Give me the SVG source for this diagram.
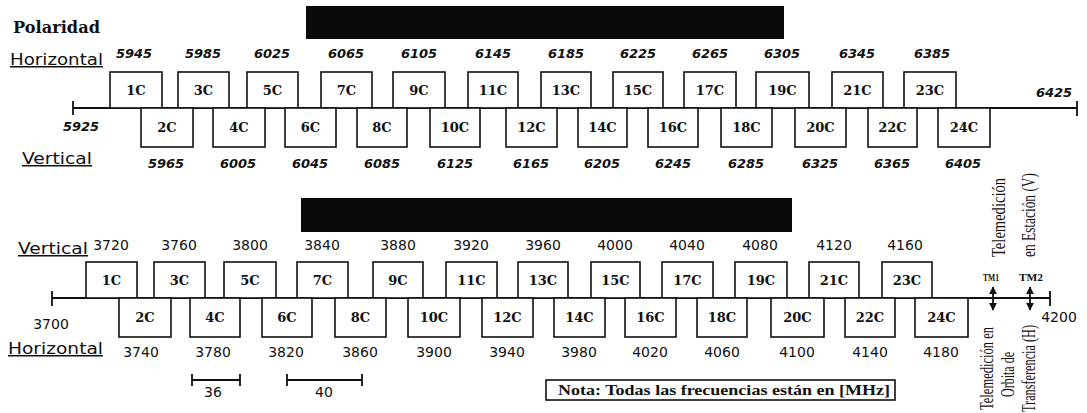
<svg xmlns="http://www.w3.org/2000/svg" width="1087" height="413" viewBox="0 0 1087 413">
<style>
.bg{fill:#fff}
.bx{fill:#fff;stroke:#111;stroke-width:1.6}
.ax{stroke:#111;stroke-width:1.8;fill:none}
.bl{font-family:"DejaVu Serif",serif;font-weight:bold;font-size:13px;fill:#111;text-anchor:middle}
.nt{font-family:"DejaVu Sans",sans-serif;font-weight:bold;font-style:oblique;font-size:13px;fill:#111;text-anchor:middle}
.nb{font-family:"DejaVu Sans",sans-serif;font-size:14px;fill:#111;text-anchor:middle}
.pl{font-family:"DejaVu Sans",sans-serif;font-size:15px;fill:#111;text-decoration:underline}
.rt{font-family:"Liberation Serif",serif;font-size:18px;fill:#111}
.tm{font-family:"Liberation Serif",serif;font-weight:bold;font-size:10px;fill:#111}
.ban{fill:#0a0a0a}
</style>
<defs>
<marker id="ah" viewBox="0 0 10 10" refX="9" refY="5" markerWidth="8" markerHeight="8" orient="auto-start-reverse" markerUnits="userSpaceOnUse">
<path d="M0,0 L10,5 L0,10 z" fill="#111"/>
</marker>
</defs>
<rect class="bg" x="0" y="0" width="1087" height="413"/>

<text x="13" y="33" font-family="DejaVu Serif, serif" font-weight="bold" font-size="16" textLength="87" lengthAdjust="spacingAndGlyphs" fill="#111">Polaridad</text>
<rect class="ban" x="306" y="6" width="478" height="33"/>
<rect class="ban" x="301" y="198" width="491" height="34"/>

<text class="pl" x="10" y="65" textLength="93" lengthAdjust="spacingAndGlyphs">Horizontal</text>
<text class="pl" x="22" y="164" textLength="70" lengthAdjust="spacingAndGlyphs">Vertical</text>
<text class="pl" x="18" y="254" textLength="70" lengthAdjust="spacingAndGlyphs">Vertical</text>
<text class="pl" x="8" y="354" textLength="95" lengthAdjust="spacingAndGlyphs">Horizontal</text>

<g id="connectors">
<line class="ax" x1="73" y1="108" x2="1077" y2="108"/>
<line class="ax" x1="73" y1="101" x2="73" y2="115"/>
<line class="ax" x1="1077" y1="101" x2="1077" y2="116"/>
<line class="ax" x1="52" y1="298" x2="1050" y2="298"/>
<line class="ax" x1="52" y1="291" x2="52" y2="306"/>
<line class="ax" x1="1050" y1="291" x2="1050" y2="306"/>
<line class="ax" x1="993" y1="287" x2="993" y2="310" marker-start="url(#ah)" marker-end="url(#ah)"/>
<line class="ax" x1="1030" y1="287" x2="1030" y2="310" marker-start="url(#ah)" marker-end="url(#ah)"/>
<line class="ax" x1="192" y1="380" x2="240" y2="380" stroke-width="1.4"/>
<line class="ax" x1="192" y1="374" x2="192" y2="386"/>
<line class="ax" x1="240" y1="374" x2="240" y2="386"/>
<line class="ax" x1="287" y1="380" x2="362" y2="380" stroke-width="1.4"/>
<line class="ax" x1="287" y1="374" x2="287" y2="386"/>
<line class="ax" x1="362" y1="374" x2="362" y2="386"/>
</g>

<g id="t1C"><rect class="bx" x="110" y="72" width="52" height="36"/><text class="bl" x="136" y="95">1C</text></g>
<g id="t3C"><rect class="bx" x="178" y="72" width="51" height="36"/><text class="bl" x="203.5" y="95">3C</text></g>
<g id="t5C"><rect class="bx" x="247" y="72" width="51" height="36"/><text class="bl" x="272.5" y="95">5C</text></g>
<g id="t7C"><rect class="bx" x="321" y="72" width="51" height="36"/><text class="bl" x="346.5" y="95">7C</text></g>
<g id="t9C"><rect class="bx" x="393" y="72" width="52" height="36"/><text class="bl" x="419" y="95">9C</text></g>
<g id="t11C"><rect class="bx" x="468" y="72" width="50" height="36"/><text class="bl" x="493" y="95">11C</text></g>
<g id="t13C"><rect class="bx" x="541" y="72" width="50" height="36"/><text class="bl" x="566" y="95">13C</text></g>
<g id="t15C"><rect class="bx" x="613" y="72" width="50" height="36"/><text class="bl" x="638" y="95">15C</text></g>
<g id="t17C"><rect class="bx" x="684" y="72" width="52" height="36"/><text class="bl" x="710" y="95">17C</text></g>
<g id="t19C"><rect class="bx" x="756" y="72" width="53" height="36"/><text class="bl" x="782.5" y="95">19C</text></g>
<g id="t21C"><rect class="bx" x="832" y="72" width="51" height="36"/><text class="bl" x="857.5" y="95">21C</text></g>
<g id="t23C"><rect class="bx" x="904" y="72" width="52" height="36"/><text class="bl" x="930" y="95">23C</text></g>

<g id="t2C"><rect class="bx" x="141" y="108" width="52" height="39"/><text class="bl" x="167" y="132">2C</text></g>
<g id="t4C"><rect class="bx" x="213" y="108" width="52" height="39"/><text class="bl" x="239" y="132">4C</text></g>
<g id="t6C"><rect class="bx" x="285" y="108" width="51" height="39"/><text class="bl" x="310.5" y="132">6C</text></g>
<g id="t8C"><rect class="bx" x="357" y="108" width="50" height="39"/><text class="bl" x="382" y="132">8C</text></g>
<g id="t10C"><rect class="bx" x="430" y="108" width="50" height="39"/><text class="bl" x="455" y="132">10C</text></g>
<g id="t12C"><rect class="bx" x="506" y="108" width="51" height="39"/><text class="bl" x="531.5" y="132">12C</text></g>
<g id="t14C"><rect class="bx" x="578" y="108" width="49" height="39"/><text class="bl" x="602.5" y="132">14C</text></g>
<g id="t16C"><rect class="bx" x="648" y="108" width="50" height="39"/><text class="bl" x="673" y="132">16C</text></g>
<g id="t18C"><rect class="bx" x="721" y="108" width="51" height="39"/><text class="bl" x="746.5" y="132">18C</text></g>
<g id="t20C"><rect class="bx" x="795" y="108" width="51" height="39"/><text class="bl" x="820.5" y="132">20C</text></g>
<g id="t22C"><rect class="bx" x="868" y="108" width="49" height="39"/><text class="bl" x="892.5" y="132">22C</text></g>
<g id="t24C"><rect class="bx" x="938" y="108" width="52" height="39"/><text class="bl" x="964" y="132">24C</text></g>

<g id="top-freqs">
<text class="nt" x="134" y="58">5945</text>
<text class="nt" x="203" y="58">5985</text>
<text class="nt" x="272" y="58">6025</text>
<text class="nt" x="346" y="58">6065</text>
<text class="nt" x="419" y="58">6105</text>
<text class="nt" x="493" y="58">6145</text>
<text class="nt" x="566" y="58">6185</text>
<text class="nt" x="638" y="58">6225</text>
<text class="nt" x="710" y="58">6265</text>
<text class="nt" x="782" y="58">6305</text>
<text class="nt" x="857" y="58">6345</text>
<text class="nt" x="932" y="58">6385</text>
<text class="nt" x="166" y="168">5965</text>
<text class="nt" x="238" y="168">6005</text>
<text class="nt" x="310" y="168">6045</text>
<text class="nt" x="382" y="168">6085</text>
<text class="nt" x="455" y="168">6125</text>
<text class="nt" x="531" y="168">6165</text>
<text class="nt" x="602" y="168">6205</text>
<text class="nt" x="673" y="168">6245</text>
<text class="nt" x="746" y="168">6285</text>
<text class="nt" x="820" y="168">6325</text>
<text class="nt" x="892" y="168">6365</text>
<text class="nt" x="963" y="168">6405</text>
<text class="nt" x="81" y="131">5925</text>
<text class="nt" x="1054" y="97">6425</text>
</g>

<g id="b1C"><rect class="bx" x="86" y="262" width="51" height="36"/><text class="bl" x="111.5" y="285">1C</text></g>
<g id="b3C"><rect class="bx" x="154" y="262" width="51" height="36"/><text class="bl" x="179.5" y="285">3C</text></g>
<g id="b5C"><rect class="bx" x="224" y="262" width="52" height="36"/><text class="bl" x="250" y="285">5C</text></g>
<g id="b7C"><rect class="bx" x="297" y="262" width="51" height="36"/><text class="bl" x="322.5" y="285">7C</text></g>
<g id="b9C"><rect class="bx" x="373" y="262" width="50" height="36"/><text class="bl" x="398" y="285">9C</text></g>
<g id="b11C"><rect class="bx" x="446" y="262" width="51" height="36"/><text class="bl" x="471.5" y="285">11C</text></g>
<g id="b13C"><rect class="bx" x="518" y="262" width="50" height="36"/><text class="bl" x="543" y="285">13C</text></g>
<g id="b15C"><rect class="bx" x="591" y="262" width="49" height="36"/><text class="bl" x="615.5" y="285">15C</text></g>
<g id="b17C"><rect class="bx" x="662" y="262" width="51" height="36"/><text class="bl" x="687.5" y="285">17C</text></g>
<g id="b19C"><rect class="bx" x="735" y="262" width="52" height="36"/><text class="bl" x="761" y="285">19C</text></g>
<g id="b21C"><rect class="bx" x="809" y="262" width="50" height="36"/><text class="bl" x="834" y="285">21C</text></g>
<g id="b23C"><rect class="bx" x="882" y="262" width="50" height="36"/><text class="bl" x="907" y="285">23C</text></g>

<g id="b2C"><rect class="bx" x="119" y="298" width="52" height="39"/><text class="bl" x="145" y="322">2C</text></g>
<g id="b4C"><rect class="bx" x="190" y="298" width="50" height="39"/><text class="bl" x="215" y="322">4C</text></g>
<g id="b6C"><rect class="bx" x="262" y="298" width="50" height="39"/><text class="bl" x="287" y="322">6C</text></g>
<g id="b8C"><rect class="bx" x="335" y="298" width="51" height="39"/><text class="bl" x="360.5" y="322">8C</text></g>
<g id="b10C"><rect class="bx" x="408" y="298" width="52" height="39"/><text class="bl" x="434" y="322">10C</text></g>
<g id="b12C"><rect class="bx" x="482" y="298" width="51" height="39"/><text class="bl" x="507.5" y="322">12C</text></g>
<g id="b14C"><rect class="bx" x="554" y="298" width="51" height="39"/><text class="bl" x="579.5" y="322">14C</text></g>
<g id="b16C"><rect class="bx" x="625" y="298" width="51" height="39"/><text class="bl" x="650.5" y="322">16C</text></g>
<g id="b18C"><rect class="bx" x="697" y="298" width="50" height="39"/><text class="bl" x="722" y="322">18C</text></g>
<g id="b20C"><rect class="bx" x="771" y="298" width="53" height="39"/><text class="bl" x="797.5" y="322">20C</text></g>
<g id="b22C"><rect class="bx" x="845" y="298" width="50" height="39"/><text class="bl" x="870" y="322">22C</text></g>
<g id="b24C"><rect class="bx" x="915" y="298" width="53" height="39"/><text class="bl" x="941.5" y="322">24C</text></g>

<g id="bottom-freqs">
<text class="nb" x="111" y="250">3720</text>
<text class="nb" x="179" y="250">3760</text>
<text class="nb" x="250" y="250">3800</text>
<text class="nb" x="322" y="250">3840</text>
<text class="nb" x="398" y="250">3880</text>
<text class="nb" x="471" y="250">3920</text>
<text class="nb" x="543" y="250">3960</text>
<text class="nb" x="615" y="250">4000</text>
<text class="nb" x="687" y="250">4040</text>
<text class="nb" x="760" y="250">4080</text>
<text class="nb" x="834" y="250">4120</text>
<text class="nb" x="905" y="250">4160</text>
<text class="nb" x="141" y="357">3740</text>
<text class="nb" x="213" y="357">3780</text>
<text class="nb" x="286" y="357">3820</text>
<text class="nb" x="360" y="357">3860</text>
<text class="nb" x="434" y="357">3900</text>
<text class="nb" x="507" y="357">3940</text>
<text class="nb" x="579" y="357">3980</text>
<text class="nb" x="650" y="357">4020</text>
<text class="nb" x="722" y="357">4060</text>
<text class="nb" x="797" y="357">4100</text>
<text class="nb" x="870" y="357">4140</text>
<text class="nb" x="941" y="357">4180</text>
<text class="nb" x="51" y="329">3700</text>
<text class="nb" x="1059" y="322">4200</text>
<text class="nb" x="213" y="397">36</text>
<text class="nb" x="324" y="397">40</text>
</g>

<g id="tm1"><text class="tm" x="983" y="281" textLength="16" lengthAdjust="spacingAndGlyphs">TM1</text></g>
<g id="tm2"><text class="tm" x="1019" y="281" textLength="24" lengthAdjust="spacingAndGlyphs">TM2</text></g>

<g id="label-v">
<text class="rt" transform="translate(1005,257) rotate(-90)" textLength="79" lengthAdjust="spacingAndGlyphs">Telemedición</text>
<text class="rt" transform="translate(1035,257) rotate(-90)" textLength="84" lengthAdjust="spacingAndGlyphs">en Estación (V)</text>
</g>
<g id="label-h">
<text class="rt" transform="translate(993,368.5) rotate(-90)" text-anchor="middle" textLength="83" lengthAdjust="spacingAndGlyphs">Telemedición en</text>
<text class="rt" transform="translate(1014,374.5) rotate(-90)" text-anchor="middle" textLength="45" lengthAdjust="spacingAndGlyphs">Orbita de</text>
<text class="rt" transform="translate(1035,368.5) rotate(-90)" text-anchor="middle" textLength="87" lengthAdjust="spacingAndGlyphs">Transferencia (H)</text>
</g>

<g id="nota">
<rect x="546" y="380" width="349" height="20" fill="#fff" stroke="#111" stroke-width="1.6"/>
<text x="558" y="395" font-family="Liberation Serif, serif" font-weight="bold" font-size="14" textLength="332" lengthAdjust="spacingAndGlyphs" fill="#111">Nota: Todas las frecuencias están en [MHz]</text>
</g>
</svg>
